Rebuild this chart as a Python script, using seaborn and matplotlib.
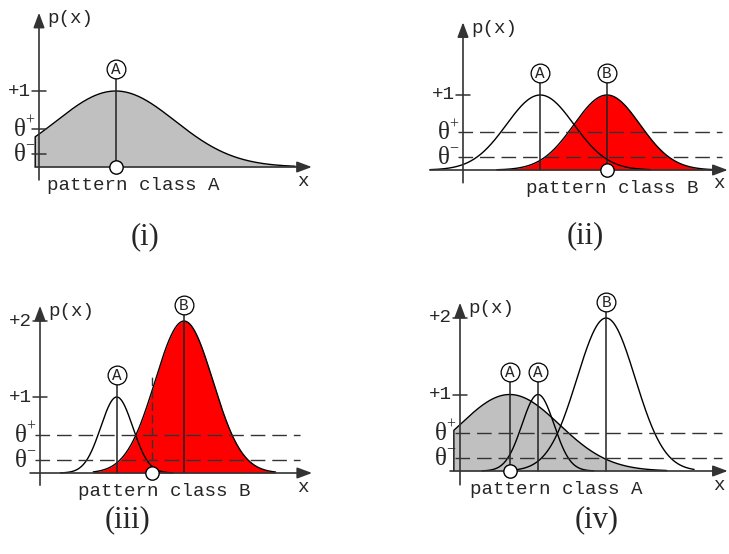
import numpy as np
import pandas as pd
import matplotlib
matplotlib.use("Agg")
import matplotlib.pyplot as plt
import seaborn as sns

# Decision thresholds on p(x)
THETA_PLUS = 0.5
THETA_MINUS = 0.17

# Panel (i): a single broad prototype of class A
LABELS_I = ["A"]
CENTERS_I = [1.01]
HEIGHTS_I = [1.0]
WIDTHS_I = [0.78]
RANGES_I = [(-0.05, 3.37)]
WINNER_I = 1.01

# Panel (ii): prototypes A and B, B wins
LABELS_II = ["A", "B"]
CENTERS_II = [1.03, 1.92]
HEIGHTS_II = [1.0, 1.0]
WIDTHS_II = [0.45, 0.44]
RANGES_II = [(-0.44, 2.50), (0.45, 3.38)]
WINNER_II = 1.92

# Panel (iii): narrow A, tall B, B wins
LABELS_III = ["A", "B"]
CENTERS_III = [1.01, 1.895]
HEIGHTS_III = [1.0, 2.0]
WIDTHS_III = [0.21, 0.38]
RANGES_III = [(0.27, 1.75), (0.70, 3.10)]
WINNER_III = 1.47
PROBE_HEIGHT_III = 1.26

# Panel (iv): a new broad A prototype is committed
LABELS_IV = ["A", "A", "B"]
CENTERS_IV = [0.65, 1.02, 1.91]
HEIGHTS_IV = [1.0, 1.0, 2.0]
WIDTHS_IV = [0.65, 0.21, 0.38]
RANGES_IV = [(-0.08, 2.70), (0.29, 1.75), (0.74, 3.06)]
WINNER_IV = 0.65

W, H = 729, 554
MONO = "Liberation Mono"
SERIF = "Liberation Serif"
AX_COL = "#333333"
GRAY = "#c0c0c0"
RED = "#ff0000"

sns.set_theme(style="white")
plt.rcParams["font.family"] = ["DejaVu Sans"]

fig = plt.figure(figsize=(W / 100, H / 100), dpi=100)
fig.patch.set_facecolor("white")


def gauss(x, mu, h, sd):
    return h * np.exp(-0.5 * ((x - mu) / sd) ** 2)


def panel(origin, scale, labels, centers, heights, widths, ranges,
          fill_idx, fill_col, winner, ticks, dashed, yaxis, base,
          dash_end, pattern_text, pattern_dx, probe=None):
    ox, oy = origin
    s = scale
    px = lambda n: n / s
    ax = fig.add_axes([0, 0, 1, 1])
    ax.set_xlim(-ox / s, (W - ox) / s)
    ax.set_ylim((oy - H) / s, oy / s)
    ax.axis("off")
    ax.patch.set_alpha(0)

    # filled response region
    lo, hi = ranges[fill_idx]
    xs = np.linspace(lo, hi, 400)
    ys = gauss(xs, centers[fill_idx], heights[fill_idx], widths[fill_idx])
    ax.fill_between(xs, 0, ys, color=fill_col, lw=0, zorder=1)

    # response curves
    for (lo, hi), mu, h, sd in zip(ranges, centers, heights, widths):
        xs = np.linspace(lo, hi, 400)
        ys = gauss(xs, mu, h, sd)
        if lo < -0.01 and gauss(lo, mu, h, sd) > 0.05:
            xs = np.concatenate([[lo], xs])
            ys = np.concatenate([[0.0], ys])
        df = pd.DataFrame({"x": xs, "y": ys})
        sns.lineplot(data=df, x="x", y="y", ax=ax, color="black", lw=1.0,
                     sort=False, estimator=None, zorder=3)

    # prototype lines and labels
    for lab, mu, h in zip(labels, centers, heights):
        ly = h + (0.29 if h < 1.5 else 0.21)
        ax.plot([mu, mu], [0, ly], color="#222222", lw=1.1, zorder=4)
        ax.plot([mu], [ly], marker="o", ms=13.5, mfc="white", mec="black",
                mew=0.9, zorder=6)
        ax.text(mu, ly - px(0.5), lab, family=MONO, fontsize=11.5,
                ha="center", va="center", zorder=7)

    # threshold lines or ticks
    for val, sign in ((THETA_PLUS, "+"), (THETA_MINUS, "\u2212")):
        if dashed:
            ax.plot([px(-5), dash_end], [val, val], color="#333333", lw=1.0,
                    ls=(0, (10.5, 5)), zorder=5)
        else:
            ax.plot([px(-7), px(7)], [val, val], color=AX_COL, lw=1.1,
                    zorder=5)
        ax.text(px(-13.5), val - px(1), "\u03b8", family=SERIF, fontsize=18,
                ha="right", va="center", zorder=7)
        ax.text(px(-14), val + px(8), sign, family=SERIF, fontsize=11.5,
                ha="left", va="center", zorder=7)

    for t in ticks:
        ax.plot([px(-7), px(7)], [t, t], color=AX_COL, lw=1.1, zorder=5)
        ax.text(px(-8), t, f"+{t:g}", family=MONO, fontsize=13.8,
                ha="right", va="center", zorder=7)

    # axes with arrow heads
    arrow = dict(arrowstyle="-|>,head_length=0.75,head_width=0.28",
                 color=AX_COL, lw=1.2, shrinkA=0, shrinkB=0,
                 mutation_scale=12)
    ax.annotate("", xy=(0, yaxis[1]), xytext=(0, yaxis[0]),
                arrowprops=arrow, zorder=5)
    ax.annotate("", xy=(base[1], 0), xytext=(base[0], 0),
                arrowprops=arrow, zorder=5)
    ax.text(px(8), yaxis[1] - px(6), "p(x)", family=MONO, fontsize=13.8,
            ha="left", va="center", zorder=7)
    ax.text(base[1] - px(9), px(-14), "x", family=MONO, fontsize=13.8,
            ha="center", va="center", zorder=7)
    ax.text(px(pattern_dx), px(-19), pattern_text, family=MONO,
            fontsize=13.8, ha="center", va="center", zorder=7)

    if probe is not None:
        ax.plot([winner, winner], [0, probe], color="#333333", lw=1.0,
                ls=(0, (6, 3)), zorder=4)

    # winning input position
    ax.plot([winner], [0], marker="o", ms=9.6, mfc="white", mec="black",
            mew=1.0, zorder=8)


panel((39, 167), 76, LABELS_I, CENTERS_I, HEIGHTS_I, WIDTHS_I, RANGES_I,
      0, GRAY, WINNER_I, [1], False, (-0.17, 2.03), (-0.05, 3.59), None,
      "pattern class A", 94)
panel((463, 170), 75, LABELS_II, CENTERS_II, HEIGHTS_II, WIDTHS_II,
      RANGES_II, 1, RED, WINNER_II, [1], True, (-0.17, 1.97),
      (-0.44, 3.53), 3.45, "pattern class B", 149)
panel((40, 473), 76, LABELS_III, CENTERS_III, HEIGHTS_III, WIDTHS_III,
      RANGES_III, 1, RED, WINNER_III, [1, 2], True, (-0.16, 2.2),
      (-0.13, 3.58), 3.42, "pattern class B", 124, probe=PROBE_HEIGHT_III)
panel((460, 471), 76.5, LABELS_IV, CENTERS_IV, HEIGHTS_IV, WIDTHS_IV,
      RANGES_IV, 0, GRAY, WINNER_IV, [1, 2], True, (-0.18, 2.2),
      (-0.13, 3.5), 3.42, "pattern class A", 96)

for txt, cx, cy in (("(i)", 145, 237), ("(ii)", 585, 236),
                    ("(iii)", 128, 520), ("(iv)", 597, 520)):
    fig.text(cx / W, 1 - cy / H, txt, family=SERIF, fontsize=22,
             ha="center", va="center")

fig.savefig("out.png", dpi=100)
